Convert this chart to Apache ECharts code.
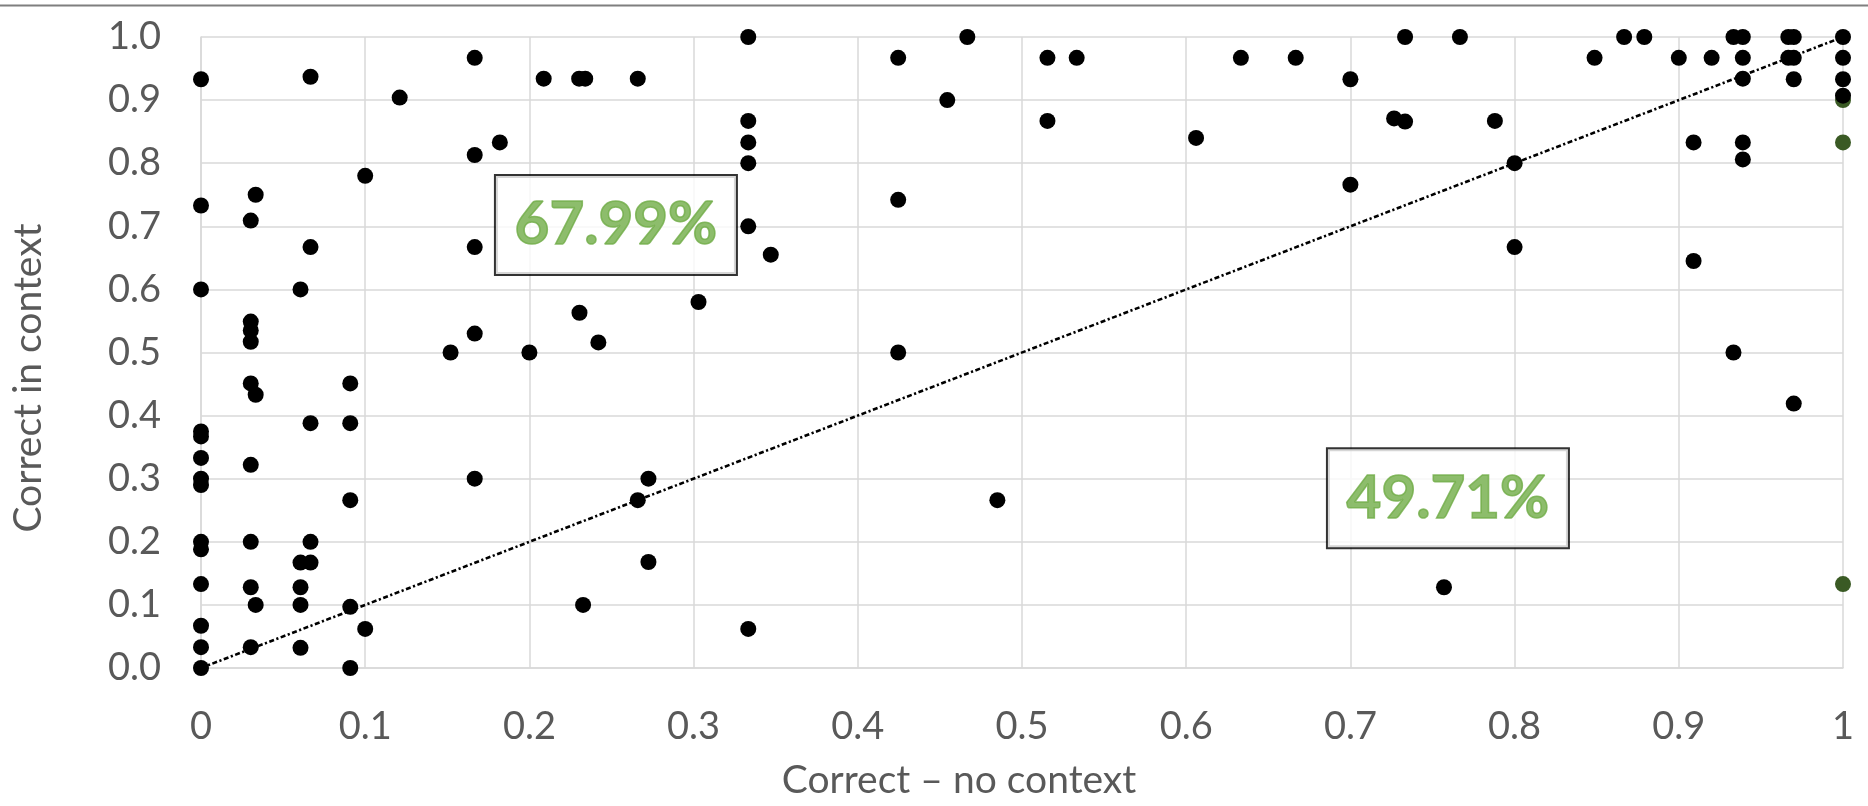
<!DOCTYPE html>
<html>
<head>
<meta charset="utf-8">
<title>Correct in context vs. correct with no context</title>
<script src="https://cdn.jsdelivr.net/npm/echarts@6/dist/echarts.min.js"></script>
<style>
  html, body { margin: 0; padding: 0; background: #ffffff; }
  #chart { width: 1868px; height: 806px; }
</style>
</head>
<body>
<div id="chart"></div>
<script>
// Share of items answered correctly without context (x) and in context (y)
const noContext = [
  0, 0, 0, 0, 0, 0, 0, 0, 0, 0, 0, 0, 0, 0,
  0.0303, 0.0303, 0.0303, 0.0303, 0.0303, 0.0303, 0.0303, 0.0303, 0.0303,
  0.0333, 0.0333, 0.0333,
  0.0606, 0.0606, 0.0606, 0.0606, 0.0606,
  0.0667, 0.0667, 0.0667, 0.0667, 0.0667,
  0.0909, 0.0909, 0.0909, 0.0909, 0.0909,
  0.1, 0.1,
  0.121, 0.152,
  0.1667, 0.1667, 0.1667, 0.1667, 0.1667,
  0.182, 0.2, 0.2087, 0.2303, 0.234, 0.2305, 0.2327, 0.242,
  0.266, 0.266, 0.2725, 0.2725, 0.303,
  0.3333, 0.3333, 0.3333, 0.3333, 0.3333, 0.3333,
  0.347, 0.4246, 0.4246, 0.4246, 0.4545, 0.4667, 0.485,
  0.5155, 0.5155, 0.5333, 0.606, 0.6333, 0.6667,
  0.7, 0.7, 0.7266, 0.7333, 0.7333, 0.757, 0.7667, 0.788,
  0.8, 0.8, 0.8487, 0.8667, 0.879, 0.9,
  0.909, 0.909, 0.92, 0.9333, 0.9333,
  0.939, 0.939, 0.939, 0.939, 0.939,
  0.9667, 0.9667,
  0.97, 0.97, 0.97, 0.97,
  1, 1, 1, 1
];
const inContext = [
  0.933, 0.733, 0.6, 0.375, 0.367, 0.333, 0.3, 0.29, 0.2, 0.188, 0.133, 0.067, 0.033, 0,
  0.709, 0.549, 0.535, 0.517, 0.451, 0.322, 0.2, 0.128, 0.033,
  0.75, 0.433, 0.1,
  0.6, 0.167, 0.128, 0.1, 0.032,
  0.937, 0.667, 0.388, 0.2, 0.167,
  0.451, 0.388, 0.266, 0.097, 0,
  0.78, 0.062,
  0.904, 0.5,
  0.967, 0.813, 0.667, 0.53, 0.3,
  0.833, 0.5, 0.934, 0.934, 0.934, 0.563, 0.1, 0.516,
  0.934, 0.266, 0.3, 0.168, 0.58,
  1, 0.867, 0.833, 0.8, 0.7, 0.062,
  0.655, 0.967, 0.742, 0.5, 0.9, 1, 0.266,
  0.967, 0.867, 0.967, 0.84, 0.967, 0.967,
  0.933, 0.766, 0.871, 1, 0.866, 0.128, 1, 0.867,
  0.8, 0.667, 0.967, 1, 1, 0.967,
  0.833, 0.645, 0.967, 1, 0.5,
  1, 0.967, 0.934, 0.833, 0.806,
  1, 0.967,
  1, 0.967, 0.933, 0.419,
  1, 0.967, 0.933, 0.907
];

// Highlighted items (drawn in dark green)
const flaggedNoContext = [1, 1, 1];
const flaggedInContext = [0.9, 0.833, 0.133];

// Reference diagonal y = x
const diagonal = [[0, 0], [1, 1]];

// Boxed percentages
const noteTexts = ['67.99%', '49.71%'];

// Tick labels
const xTickLabels = ['0', '0.1', '0.2', '0.3', '0.4', '0.5', '0.6', '0.7', '0.8', '0.9', '1'];
const yTickLabels = ['0.0', '0.1', '0.2', '0.3', '0.4', '0.5', '0.6', '0.7', '0.8', '0.9', '1.0'];

// Axis titles
const xTitle = 'Correct \u2013 no context';
const yTitle = 'Correct in context';

const points = noContext.map((x, i) => [x, inContext[i]]);
const flagged = flaggedNoContext.map((x, i) => [x, flaggedInContext[i]]);
const notePlaces = [[0.2527, 0.702], [0.7594, 0.269]];

const FONT = 'Lato, "Open Sans", sans-serif';
const GREY_TEXT = '#595959';
const GRID_LINE = '#d9d9d9';
const NOTE_GREEN = '#70ad47';

const chart = echarts.init(document.getElementById('chart'), null, { renderer: 'canvas' });

chart.setOption({
  animation: false,
  backgroundColor: '#ffffff',
  grid: {
    left: 201, right: 25, top: 37, bottom: 138,
    containLabel: false,
    outerBoundsMode: 'none'
  },
  xAxis: {
    type: 'value',
    min: 0, max: 1, interval: 0.1,
    axisLine: { show: true, lineStyle: { color: GRID_LINE, width: 1.5 } },
    axisTick: { show: false },
    splitLine: { show: true, showMinLine: true, showMaxLine: true, lineStyle: { color: GRID_LINE, width: 1.5 } },
    axisLabel: {
      margin: 40,
      color: GREY_TEXT,
      fontFamily: FONT,
      fontSize: 38,
      formatter: v => xTickLabels[Math.round(v * 10)]
    }
  },
  yAxis: {
    type: 'value',
    min: 0, max: 1, interval: 0.1,
    axisLine: { show: true, lineStyle: { color: GRID_LINE, width: 1.5 } },
    axisTick: { show: false },
    splitLine: { show: true, showMinLine: true, showMaxLine: true, lineStyle: { color: GRID_LINE, width: 1.5 } },
    axisLabel: {
      margin: 40,
      color: GREY_TEXT,
      fontFamily: FONT,
      fontSize: 38,
      formatter: v => yTickLabels[Math.round(v * 10)]
    }
  },
  series: [
    {
      name: 'diagonal',
      type: 'line',
      data: diagonal,
      showSymbol: false,
      silent: true,
      z: 2,
      lineStyle: { color: '#000000', width: 2.6, type: [5, 2.5, 2.2, 2.5] }
    },
    {
      name: 'flagged',
      type: 'scatter',
      data: flagged,
      symbol: 'circle',
      symbolSize: 16,
      z: 3,
      itemStyle: { color: '#3a5a24', opacity: 1 }
    },
    {
      name: 'items',
      type: 'scatter',
      data: points,
      symbol: 'circle',
      symbolSize: 16,
      z: 4,
      itemStyle: { color: '#000000', opacity: 1 }
    },
    {
      name: 'notes',
      type: 'scatter',
      data: notePlaces,
      symbolSize: 1,
      silent: true,
      z: 6,
      itemStyle: { color: 'rgba(0,0,0,0)' },
      label: {
        show: true,
        position: 'inside',
        formatter: p => noteTexts[p.dataIndex],
        fontFamily: FONT,
        fontWeight: 'bold',
        fontSize: 60,
        color: NOTE_GREEN,
        textBorderColor: NOTE_GREEN,
        textBorderWidth: 1.6,
        backgroundColor: '#ffffff',
        borderColor: '#000000',
        borderWidth: 2,
        width: 204,
        height: 60,
        lineHeight: 60,
        align: 'center',
        verticalAlign: 'middle',
        padding: [19, 18]
      }
    }
  ],
  graphic: [
    {
      type: 'line',
      shape: { x1: 0, y1: 5.5, x2: 1868, y2: 5.5 },
      style: { stroke: '#7f7f7f', lineWidth: 2 },
      silent: true
    },
    {
      type: 'text',
      x: 959, y: 780,
      style: {
        text: xTitle, fill: GREY_TEXT, font: '39px ' + FONT,
        textAlign: 'center', textVerticalAlign: 'middle'
      },
      silent: true
    },
    {
      type: 'text',
      x: 28, y: 378,
      rotation: Math.PI / 2,
      style: {
        text: yTitle, fill: GREY_TEXT, font: '39px ' + FONT,
        textAlign: 'center', textVerticalAlign: 'middle'
      },
      silent: true
    }
  ]
});
</script>
</body>
</html>
